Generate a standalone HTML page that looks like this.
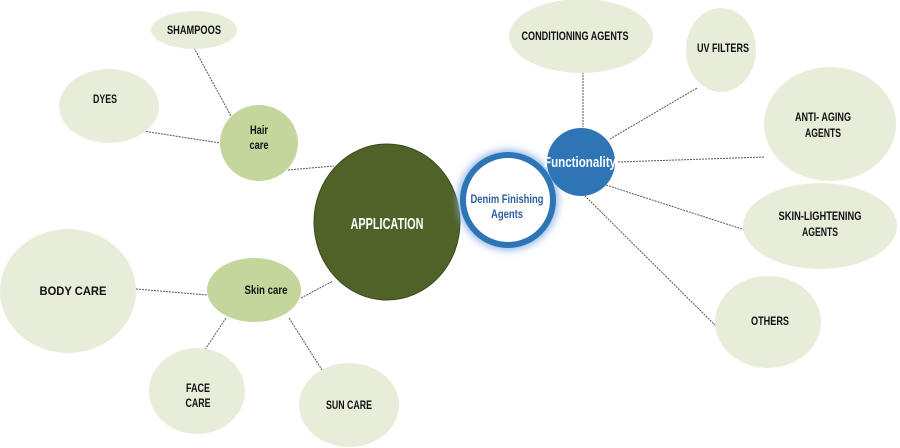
<!DOCTYPE html>
<html><head><meta charset="utf-8"><style>body{margin:0;background:#fff}svg{display:block}text{font-family:"Liberation Sans",sans-serif;font-weight:bold;text-anchor:middle}</style></head><body>
<svg width="900" height="448" viewBox="0 0 900 448">
<defs><filter id="g" x="-50%" y="-50%" width="200%" height="200%"><feGaussianBlur stdDeviation="4"/></filter></defs>
<g stroke="#555" stroke-width="1" stroke-dasharray="2,1" fill="none">
<line x1="194" y1="48" x2="231" y2="116"/>
<line x1="143" y1="131" x2="220" y2="143"/>
<line x1="288" y1="170" x2="334" y2="166"/>
<line x1="136" y1="289" x2="207" y2="295"/>
<line x1="226" y1="318" x2="200" y2="357"/>
<line x1="289" y1="318" x2="322" y2="370"/>
<line x1="301" y1="298" x2="333" y2="281"/>
<line x1="583" y1="72" x2="583" y2="127"/>
<line x1="697" y1="88" x2="610" y2="139"/>
<line x1="764" y1="157" x2="618" y2="162"/>
<line x1="745" y1="230" x2="606" y2="185"/>
<line x1="720" y1="330" x2="585" y2="196"/>
</g>
<g fill="#e8edda">
<ellipse cx="194" cy="30" rx="43" ry="19"/>
<ellipse cx="109" cy="106" rx="50" ry="37"/>
<ellipse cx="68" cy="291" rx="68" ry="62"/>
<ellipse cx="197" cy="391" rx="48" ry="43"/>
<ellipse cx="349" cy="405" rx="50" ry="42"/>
<ellipse cx="581" cy="36" rx="72" ry="37"/>
<ellipse cx="721" cy="50" rx="35" ry="42"/>
<ellipse cx="830" cy="124" rx="66" ry="57"/>
<ellipse cx="820" cy="226" rx="77" ry="43"/>
<ellipse cx="768" cy="322" rx="53" ry="46"/>
</g>
<ellipse cx="259" cy="143" rx="39" ry="38" fill="#c5d69c"/>
<ellipse cx="254" cy="290" rx="47" ry="32" fill="#c5d69c"/>
<ellipse cx="387" cy="222" rx="73" ry="78" fill="#4f6228" stroke="#3a4a1c" stroke-width="1"/>
<circle cx="508" cy="200" r="50" fill="#8db4e8" filter="url(#g)"/>
<circle cx="508" cy="200" r="45" fill="#fff" stroke="#2e75b6" stroke-width="6"/>
<circle cx="581" cy="162" r="34" fill="#2e75b6"/>
<g font-size="12" fill="#111">
<text x="194" y="34" textLength="54" lengthAdjust="spacingAndGlyphs">SHAMPOOS</text>
<text x="105" y="103" textLength="24" lengthAdjust="spacingAndGlyphs">DYES</text>
<text x="259" y="134" textLength="18" lengthAdjust="spacingAndGlyphs">Hair</text><text x="259" y="149" textLength="19" lengthAdjust="spacingAndGlyphs">care</text>
<text x="266" y="294" textLength="43" lengthAdjust="spacingAndGlyphs">Skin care</text>
<text x="73" y="295" textLength="67" lengthAdjust="spacingAndGlyphs">BODY CARE</text>
<text x="198" y="392" textLength="24" lengthAdjust="spacingAndGlyphs">FACE</text><text x="198" y="407" textLength="25" lengthAdjust="spacingAndGlyphs">CARE</text>
<text x="349" y="409" textLength="46" lengthAdjust="spacingAndGlyphs">SUN CARE</text>
<text x="575" y="40" textLength="107" lengthAdjust="spacingAndGlyphs">CONDITIONING AGENTS</text>
<text x="723" y="52" textLength="52" lengthAdjust="spacingAndGlyphs">UV FILTERS</text>
<text x="823" y="121" textLength="56" lengthAdjust="spacingAndGlyphs">ANTI- AGING</text><text x="823" y="137" textLength="36" lengthAdjust="spacingAndGlyphs">AGENTS</text>
<text x="820" y="220" textLength="83" lengthAdjust="spacingAndGlyphs">SKIN-LIGHTENING</text><text x="820" y="236" textLength="36" lengthAdjust="spacingAndGlyphs">AGENTS</text>
<text x="770" y="325" textLength="38" lengthAdjust="spacingAndGlyphs">OTHERS</text>
</g>
<text x="387" y="229" font-size="16" fill="#fff" textLength="73" lengthAdjust="spacingAndGlyphs">APPLICATION</text>
<text x="507" y="203" font-size="12" fill="#2e5f9e" textLength="73" lengthAdjust="spacingAndGlyphs">Denim Finishing</text>
<text x="507" y="218" font-size="12" fill="#2e5f9e" textLength="32" lengthAdjust="spacingAndGlyphs">Agents</text>
<text x="580" y="167" font-size="15" fill="#fff" textLength="72" lengthAdjust="spacingAndGlyphs">Functionality</text>
</svg>
</body></html>
